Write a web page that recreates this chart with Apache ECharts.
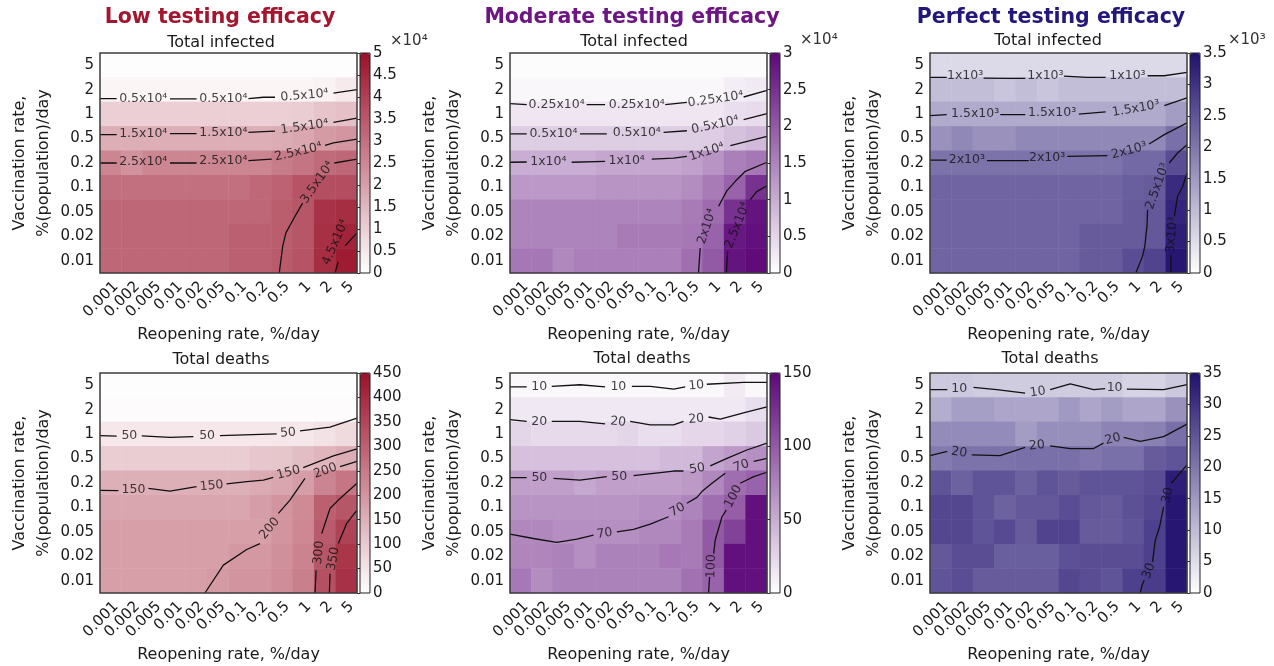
<!DOCTYPE html>
<html>
<head>
<meta charset="utf-8">
<script src="https://cdn.jsdelivr.net/npm/echarts@6/dist/echarts.min.js"></script>
<style>
html, body { margin: 0; padding: 0; background: #fff; }
#chart { width: 1274px; height: 666px; }
</style>
</head>
<body>
<div id="chart"></div>
<script>
// axes categories
var reopening = ['0.001', '0.002', '0.005', '0.01', '0.02', '0.05', '0.1', '0.2', '0.5', '1', '2', '5'];
var vaccination = ['0.01', '0.02', '0.05', '0.1', '0.2', '0.5', '1', '2', '5']; // bottom -> top

// cell values, rows listed from vaccination 5 (top) down to 0.01 (bottom)
// total infected, units of 10^4 / 10^4 / 10^3
var infectedLow = [
    [0.05, 0.05, 0.05, 0.05, 0.05, 0.05, 0.05, 0.05, 0.05, 0.05, 0.05, 0.05],
    [0.2, 0.2, 0.2, 0.2, 0.2, 0.2, 0.2, 0.2, 0.2, 0.22, 0.25, 0.45],
    [1.0, 1.0, 1.0, 1.0, 1.0, 1.0, 1.0, 1.0, 1.0, 1.05, 1.25, 1.3],
    [1.7, 1.7, 1.7, 1.7, 1.7, 1.7, 1.7, 1.7, 1.75, 1.85, 2.1, 2.2],
    [2.55, 2.3, 2.55, 2.55, 2.55, 2.55, 2.55, 2.55, 2.75, 2.9, 3.1, 3.2],
    [3.0, 3.0, 3.0, 3.0, 3.0, 3.0, 3.0, 3.15, 3.3, 3.6, 3.7, 3.75],
    [3.2, 3.2, 3.2, 3.2, 3.2, 3.2, 3.2, 3.2, 3.4, 3.55, 4.3, 4.4],
    [3.2, 3.2, 3.2, 3.2, 3.2, 3.2, 3.35, 3.35, 3.4, 3.55, 4.35, 4.6],
    [3.2, 3.2, 3.2, 3.2, 3.2, 3.2, 3.35, 3.35, 3.45, 3.6, 4.4, 4.8]
];
var infectedModerate = [
    [0.04, 0.04, 0.04, 0.04, 0.04, 0.04, 0.04, 0.04, 0.04, 0.04, 0.04, 0.04],
    [0.1, 0.1, 0.1, 0.1, 0.1, 0.1, 0.1, 0.1, 0.1, 0.1, 0.22, 0.25],
    [0.3, 0.3, 0.3, 0.3, 0.3, 0.3, 0.3, 0.3, 0.3, 0.3, 0.4, 0.42],
    [0.6, 0.6, 0.6, 0.6, 0.6, 0.6, 0.6, 0.6, 0.6, 0.62, 0.75, 0.85],
    [1.0, 1.0, 1.0, 1.0, 1.08, 1.08, 1.08, 1.08, 1.15, 1.3, 1.55, 1.65],
    [1.25, 1.25, 1.25, 1.25, 1.3, 1.3, 1.3, 1.3, 1.4, 1.6, 1.9, 2.5],
    [1.5, 1.5, 1.5, 1.5, 1.5, 1.5, 1.5, 1.5, 1.6, 1.8, 2.5, 2.85],
    [1.5, 1.5, 1.5, 1.5, 1.5, 1.6, 1.6, 1.6, 1.65, 1.9, 2.8, 2.9],
    [1.65, 1.65, 1.45, 1.55, 1.55, 1.55, 1.55, 1.55, 1.75, 2.0, 2.85, 2.95]
];
var infectedPerfect = [
    [0.55, 0.55, 0.55, 0.55, 0.55, 0.55, 0.55, 0.55, 0.55, 0.55, 0.55, 0.55],
    [0.95, 0.95, 0.95, 0.85, 0.95, 0.85, 0.95, 0.95, 0.95, 0.95, 0.95, 0.95],
    [1.25, 1.25, 1.25, 1.25, 1.25, 1.25, 1.25, 1.25, 1.25, 1.25, 1.25, 1.45],
    [1.6, 1.75, 1.6, 1.6, 1.75, 1.75, 1.75, 1.75, 1.75, 1.75, 1.75, 2.1],
    [2.05, 2.05, 2.05, 2.05, 2.05, 2.05, 2.05, 2.05, 2.05, 2.2, 2.2, 2.6],
    [2.25, 2.25, 2.25, 2.25, 2.25, 2.25, 2.25, 2.25, 2.25, 2.35, 2.4, 3.1],
    [2.25, 2.25, 2.25, 2.25, 2.25, 2.25, 2.25, 2.25, 2.25, 2.4, 2.45, 3.2],
    [2.25, 2.25, 2.25, 2.25, 2.25, 2.25, 2.25, 2.4, 2.4, 2.4, 2.45, 3.3],
    [2.25, 2.25, 2.25, 2.25, 2.25, 2.25, 2.25, 2.4, 2.4, 2.6, 2.75, 3.4]
];
// total deaths
var deathsLow = [
    [3, 3, 3, 3, 3, 3, 3, 3, 3, 3, 3, 3],
    [8, 8, 8, 8, 8, 8, 8, 8, 8, 8, 8, 8],
    [45, 45, 45, 45, 45, 45, 45, 45, 45, 45, 55, 70],
    [95, 95, 95, 95, 95, 95, 95, 105, 110, 125, 140, 155],
    [150, 150, 150, 150, 150, 150, 150, 160, 170, 185, 230, 260],
    [170, 170, 170, 170, 170, 170, 170, 185, 200, 220, 300, 320],
    [180, 180, 180, 180, 180, 180, 180, 180, 200, 225, 310, 355],
    [180, 180, 180, 180, 180, 180, 195, 195, 210, 235, 320, 380],
    [180, 180, 180, 180, 180, 190, 200, 200, 215, 240, 330, 390]
];
var deathsModerate = [
    [4, 4, 4, 4, 4, 4, 4, 4, 4, 4, 12, 4],
    [14, 14, 14, 14, 14, 14, 14, 14, 14, 14, 14, 20],
    [25, 22, 22, 22, 22, 25, 20, 20, 24, 24, 28, 33],
    [38, 38, 38, 38, 38, 38, 38, 42, 42, 55, 62, 68],
    [58, 58, 58, 53, 58, 58, 58, 58, 62, 72, 88, 95],
    [65, 65, 65, 65, 65, 65, 68, 68, 75, 88, 98, 145],
    [72, 72, 68, 68, 68, 68, 72, 72, 80, 100, 115, 145],
    [74, 74, 76, 68, 76, 76, 76, 82, 80, 100, 145, 145],
    [82, 70, 76, 76, 76, 76, 76, 76, 86, 95, 145, 145]
];
var deathsPerfect = [
    [8, 8, 7.5, 7.5, 7.5, 7.5, 7.5, 7.5, 7.5, 6.5, 6.5, 8],
    [12, 14, 14, 13, 13, 13, 15, 13, 14.5, 13, 13, 16],
    [17, 17, 17, 17, 14.5, 16.5, 16.5, 16.5, 18, 18, 18.5, 21],
    [19.5, 20.5, 20.5, 20.5, 21, 21, 21, 20, 21, 21, 24, 25],
    [25, 23, 25, 25, 23, 25, 24, 25, 25, 25, 26, 33],
    [27, 27, 25, 23, 24.5, 24.5, 26, 24.5, 24, 25.5, 27, 34],
    [27, 27, 25, 26.5, 24, 27.5, 27.5, 24, 24, 25, 28, 34],
    [24.5, 26, 26, 23.5, 23.5, 23.5, 25.5, 26, 26, 26, 28, 34],
    [25, 26, 24, 24, 24, 24, 27, 26, 25, 28, 28.5, 34]
];

// contour lines in cell-index coordinates (x: -0.5..11.5, y: -0.5..8.5)
// segs = pieces of the line between labels, labels = [x, y, angle]
var contoursInfectedLow = [
    {level: '0.5x10⁴', segs: [[[-0.5, 6.63], [0.28, 6.63]], [[2.77, 6.62], [4.01, 6.62]], [[6.43, 6.63], [7.13, 6.69], [7.67, 6.69]], [[10.4, 6.86], [11.5, 7.0]]],
        labels: [[1.52, 6.63, 0], [5.26, 6.63, 0], [9.05, 6.76, 5]]},
    {level: '1.5x10⁴', segs: [[[-0.5, 5.16], [0.28, 5.16]], [[2.77, 5.2], [4.01, 5.2]], [[6.43, 5.25], [7.13, 5.28], [7.67, 5.3]], [[10.4, 5.66], [11.5, 5.84]]],
        labels: [[1.52, 5.2, 0], [5.26, 5.23, 0], [9.05, 5.48, 8]]},
    {level: '2.5x10⁴', segs: [[[-0.5, 4.0], [0.28, 4.0]], [[2.77, 4.0], [4.01, 4.0]], [[6.43, 4.1], [7.52, 4.16]], [[10.01, 4.72], [10.4, 4.82], [11.5, 4.98]]],
        labels: [[1.52, 4.05, 0], [5.26, 4.08, 0], [8.76, 4.45, 13]]},
    {level: '3.5x10⁴', segs: [[[7.87, -0.5], [8.03, 0.59], [8.18, 1.14], [8.56, 1.75], [8.96, 2.36]], [[10.44, 4.0], [11.5, 4.16]]],
        labels: [[9.65, 3.2, 55]]},
    {level: '4.5x10⁴', segs: [[[10.47, -0.5], [10.62, -0.05]], [[10.95, 0.62], [11.5, 1.14]]],
        labels: [[10.5, 0.75, 66]]}
];
var contoursInfectedModerate = [
    {level: '0.25x10⁴', segs: [[[-0.5, 6.43], [0.28, 6.39]], [[3.08, 6.39], [3.94, 6.39]], [[6.75, 6.39], [7.76, 6.48]], [[10.41, 6.7], [11.5, 6.97]]],
        labels: [[1.68, 6.39, 0], [5.42, 6.39, 0], [9.1, 6.6, 8]]},
    {level: '0.5x10⁴', segs: [[[-0.5, 5.19], [0.28, 5.19]], [[2.77, 5.19], [4.02, 5.19]], [[6.67, 5.25], [7.76, 5.32]], [[10.41, 5.77], [11.5, 6.02]]],
        labels: [[1.53, 5.19, 0], [5.42, 5.22, 0], [9.08, 5.55, 12]]},
    {level: '1x10⁴', segs: [[[-0.5, 4.03], [0.28, 4.04]], [[2.38, 4.03], [3.94, 4.07]], [[6.12, 4.16], [7.14, 4.2], [7.76, 4.27]], [[9.79, 4.71], [11.5, 5.09]]],
        labels: [[1.29, 4.07, 0], [4.95, 4.1, 0], [8.69, 4.45, 17]]},
    {level: '2x10⁴', segs: [[[8.3, -0.5], [8.38, 0.52]], [[9.24, 2.23], [9.63, 2.87], [10.02, 3.25], [10.49, 3.66], [11.5, 4.03]]],
        labels: [[8.7, 1.4, 72]]},
    {level: '2.5x10⁴', segs: [[[9.6, -0.5], [9.66, 0.39]], [[10.72, 2.5], [11.03, 2.84], [11.5, 3.07]]],
        labels: [[10.12, 1.45, 68]]}
];
var contoursInfectedPerfect = [
    {level: '1x10³', segs: [[[-0.5, 7.5], [0.28, 7.5]], [[2.0, 7.47], [3.17, 7.46], [3.95, 7.46]], [[5.75, 7.55], [6.84, 7.5], [7.7, 7.5]], [[9.66, 7.57], [10.44, 7.57], [11.5, 7.71]]],
        labels: [[1.14, 7.55, 0], [4.89, 7.55, 0], [8.72, 7.55, 0]]},
    {level: '1.5x10³', segs: [[[-0.5, 5.94], [0.28, 5.98]], [[2.78, 5.98], [3.95, 5.98]], [[6.45, 6.0], [7.7, 6.09]], [[10.44, 6.35], [11.5, 6.66]]],
        labels: [[1.61, 6.02, 0], [5.2, 6.04, 0], [9.11, 6.22, 10]]},
    {level: '2x10³', segs: [[[-0.5, 4.12], [0.28, 4.12]], [[2.16, 4.1], [4.11, 4.1]], [[5.91, 4.27], [7.78, 4.3]], [[9.73, 4.78], [10.44, 5.16], [11.5, 5.64]]],
        labels: [[1.22, 4.12, 0], [4.97, 4.2, 0], [8.8, 4.5, 15]]},
    {level: '2.5x10³', segs: [[[9.11, -0.5], [9.42, 0.18], [9.53, 0.59], [9.63, 1.41], [9.66, 2.09]], [[10.67, 4.0], [11.06, 4.41], [11.5, 4.75]]],
        labels: [[10.13, 3.05, 70]]},
    {level: '3x10³', segs: [[[10.75, -0.5], [10.75, 0.25]], [[10.91, 1.82], [11.06, 2.64], [11.3, 3.05], [11.5, 3.59]]],
        labels: [[10.8, 1.05, 85]]}
];
var contoursDeathsLow = [
    {level: '50', segs: [[[-0.5, 5.94], [0.28, 5.92]], [[1.45, 5.93], [2.77, 5.87], [3.86, 5.9]], [[5.1, 5.94], [7.75, 6.01]], [[8.84, 6.13], [10.24, 6.29], [11.5, 6.65]]],
        labels: [[0.87, 5.93, 0], [4.5, 5.92, 0], [8.28, 6.05, 5]]},
    {level: '150', segs: [[[-0.5, 3.7], [0.36, 3.69]], [[1.76, 3.78], [2.77, 3.67], [4.01, 3.85]], [[5.41, 3.96], [6.35, 4.06], [7.13, 4.12], [7.59, 4.23]], [[8.99, 4.63], [10.4, 5.11], [11.5, 5.4]]],
        labels: [[1.06, 3.74, 0], [4.71, 3.88, 5], [8.3, 4.42, 15]]},
    {level: '200', segs: [[[4.4, -0.5], [5.26, 0.64], [6.35, 1.28], [6.97, 1.52]], [[7.83, 2.76], [8.37, 3.3], [9.07, 4.19]], [[10.71, 4.67], [11.5, 4.88]]],
        labels: [[7.42, 2.14, 50], [10.02, 4.5, 20]]},
    {level: '300', segs: [[[9.54, -0.5], [9.59, 0.43]], [[9.85, 1.93], [10.24, 2.96], [10.71, 3.37], [11.5, 3.99]]],
        labels: [[9.72, 1.15, 85]]},
    {level: '350', segs: [[[10.21, -0.5], [10.24, 0.29]], [[10.63, 1.52], [11.02, 2.35], [11.5, 2.89]]],
        labels: [[10.4, 0.9, 80]]}
];
var contoursDeathsModerate = [
    {level: '10', segs: [[[-0.5, 7.93], [0.28, 7.93]], [[1.45, 7.95], [2.77, 8.02], [3.94, 7.93]], [[5.19, 7.95], [6.05, 7.95], [7.14, 7.84], [7.68, 7.93]], [[8.69, 8.04], [10.41, 8.12], [11.5, 8.12]]],
        labels: [[0.86, 7.93, 0], [4.56, 7.93, 0], [8.2, 7.99, 5]]},
    {level: '20', segs: [[[-0.5, 6.59], [0.28, 6.52]], [[1.45, 6.52], [2.77, 6.52], [3.94, 6.42]], [[5.11, 6.52], [6.05, 6.38], [7.14, 6.38], [7.6, 6.52]], [[8.77, 6.7], [9.32, 6.61], [10.49, 6.89], [11.5, 7.11]]],
        labels: [[0.86, 6.52, 0], [4.55, 6.5, -5], [8.2, 6.62, 5]]},
    {level: '50', segs: [[[-0.5, 4.22], [0.28, 4.22]], [[1.53, 4.19], [2.77, 4.12], [4.02, 4.26]], [[5.27, 4.3], [7.14, 4.49], [7.6, 4.49]], [[8.85, 4.7], [9.63, 5.01], [10.56, 5.35], [11.5, 5.63]]],
        labels: [[0.87, 4.22, 0], [4.6, 4.26, 0], [8.24, 4.58, 10]]},
    {level: '70', segs: [[[-0.5, 1.91], [0.59, 1.73], [1.68, 1.57], [2.62, 1.7], [3.4, 1.87]], [[4.49, 2.0], [5.27, 2.1], [6.05, 2.32], [6.9, 2.62]], [[7.76, 3.17], [8.23, 3.41], [8.46, 3.65], [8.93, 3.99], [9.55, 4.4]], [[10.88, 4.88], [11.5, 5.01]]],
        labels: [[3.92, 1.93, 8], [7.32, 2.9, 30], [10.3, 4.7, 20]]},
    {level: '100', segs: [[[8.77, -0.5], [8.82, 0.16]], [[9.01, 1.11], [9.08, 1.66], [9.4, 2.62], [9.6, 2.89]], [[10.25, 3.99], [10.88, 4.26], [11.5, 4.44]]],
        labels: [[8.9, 0.6, 88], [9.93, 3.45, 62]]}
];
var contoursDeathsPerfect = [
    {level: '10', segs: [[[-0.5, 7.82], [0.31, 7.82]], [[1.53, 7.91], [2.62, 7.82], [3.94, 7.68]], [[5.11, 7.82], [6.05, 8.06], [7.14, 7.82], [7.68, 7.86]], [[8.69, 7.84], [10.41, 7.82], [11.5, 8.02]]],
        labels: [[0.86, 7.84, 0], [4.53, 7.72, 8], [8.12, 7.89, 0]]},
    {level: '20', segs: [[[-0.5, 5.12], [0.31, 5.29]], [[1.45, 5.15], [2.77, 5.12], [3.94, 5.46]], [[5.11, 5.52], [6.05, 5.41], [7.14, 5.41], [7.6, 5.63]], [[8.54, 5.87], [9.32, 5.7], [10.41, 5.9], [11.5, 6.41]]],
        labels: [[0.86, 5.25, -8], [4.49, 5.53, 5], [8.04, 5.8, 15]]},
    {level: '30', segs: [[[9.32, -0.5], [9.4, -0.19], [9.5, 0.02]], [[9.89, 0.77], [10.02, 1.66], [10.22, 2.21], [10.41, 3.03]], [[10.77, 3.99], [11.03, 4.26], [11.5, 4.74]]],
        labels: [[9.72, 0.4, 70], [10.6, 3.5, 78]]}
];

var RED = ['#ffffff', '#9a1129'];
var PURPLE = ['#ffffff', '#5c0878'];
var NAVY = ['#ffffff', '#21106f'];
var FONT = 'DejaVu Sans';
var TXT = '#1a1a1a';

var panels = [
    {left: 100, top: 53, rows: infectedLow, contours: contoursInfectedLow, max: 5, step: 0.5, colors: RED, title: 'Total infected', tx: 221, ty: 43, mult: '×10⁴', mx: 390, my: 41},
    {left: 510, top: 53, rows: infectedModerate, contours: contoursInfectedModerate, max: 3, step: 0.5, colors: PURPLE, title: 'Total infected', tx: 634, ty: 42, mult: '×10⁴', mx: 800, my: 40},
    {left: 930, top: 53, rows: infectedPerfect, contours: contoursInfectedPerfect, max: 3.5, step: 0.5, colors: NAVY, title: 'Total infected', tx: 1048, ty: 41, mult: '×10³', mx: 1228, my: 40},
    {left: 100, top: 373, rows: deathsLow, contours: contoursDeathsLow, max: 450, step: 50, colors: RED, title: 'Total deaths', tx: 221, ty: 360},
    {left: 510, top: 373, rows: deathsModerate, contours: contoursDeathsModerate, max: 150, step: 50, colors: PURPLE, title: 'Total deaths', tx: 642, ty: 359},
    {left: 930, top: 373, rows: deathsPerfect, contours: contoursDeathsPerfect, max: 35, step: 5, colors: NAVY, title: 'Total deaths', tx: 1050, ty: 359}
];
var headers = [
    {text: 'Low testing efficacy', x: 220, color: '#a3162f'},
    {text: 'Moderate testing efficacy', x: 632, color: '#6d1683'},
    {text: 'Perfect testing efficacy', x: 1051, color: '#24177b'}
];

var W = 257, H = 220;

function cells(rows) {
    var d = [];
    rows.forEach(function (row, r) {
        row.forEach(function (v, c) { d.push([c, rows.length - 1 - r, v]); });
    });
    return d;
}

var grid = [], xAxis = [], yAxis = [], series = [], visualMap = [], graphic = [];

panels.forEach(function (p, i) {
    var g = grid.length;
    grid.push({left: p.left, top: p.top, width: W, height: H, show: true, borderColor: '#3c3c3c', borderWidth: 1.5, z: 10});
    grid.push({left: p.left + 260, top: p.top, width: 10, height: H, show: true, borderColor: '#222', borderWidth: 1, z: 10});
    var a = xAxis.length;
    // heatmap axes
    xAxis.push({type: 'category', gridIndex: g, data: reopening, axisLine: {show: false}, axisTick: {show: false},
        axisLabel: {interval: 0, rotate: 45, fontSize: 15, color: TXT, margin: 6, verticalAlign: 'top', fontFamily: FONT},
        name: 'Reopening rate, %/day', nameLocation: 'middle', nameGap: 54,
        nameTextStyle: {fontSize: 16, color: TXT, fontFamily: FONT}});
    yAxis.push({type: 'category', gridIndex: g, data: vaccination, axisLine: {show: false}, axisTick: {show: false},
        axisLabel: {interval: 0, fontSize: 15, color: TXT, margin: 6, fontFamily: FONT},
        name: 'Vaccination rate,\n%(population)/day', nameLocation: 'middle', nameGap: 44, nameRotate: 90,
        nameTextStyle: {fontSize: 16, color: TXT, lineHeight: 24, fontFamily: FONT}});
    // contour axes (same grid, cell-index coordinates)
    xAxis.push({type: 'value', gridIndex: g, min: -0.5, max: 11.5, show: false});
    yAxis.push({type: 'value', gridIndex: g, min: -0.5, max: 8.5, show: false});
    // colorbar axis
    xAxis.push({type: 'value', gridIndex: g + 1, show: false, min: 0, max: 1});
    yAxis.push({type: 'value', gridIndex: g + 1, position: 'right', min: 0, max: p.max, interval: p.step,
        axisLine: {show: false}, splitLine: {show: false},
        axisTick: {show: true, inside: true, length: 3, lineStyle: {color: '#333'}},
        axisLabel: {fontSize: 15, color: TXT, margin: 3, fontFamily: FONT}});

    visualMap.push({type: 'continuous', seriesIndex: series.length, min: 0, max: p.max, calculable: false,
        itemWidth: 10, itemHeight: H, left: p.left + 260, top: p.top, padding: 0, text: null, hoverLink: false,
        inRange: {color: p.colors}});
    series.push({type: 'heatmap', xAxisIndex: a, yAxisIndex: a, data: cells(p.rows), silent: true, z: 2});

    var labelData = [];
    p.contours.forEach(function (c) {
        var pts = [];
        c.segs.forEach(function (s, k) {
            if (k) pts.push(['-', '-']);
            pts = pts.concat(s);
        });
        series.push({type: 'line', xAxisIndex: a + 1, yAxisIndex: a + 1, data: pts, symbol: 'none', silent: true,
            connectNulls: false, z: 6, lineStyle: {color: '#111', width: 1.3}});
        c.labels.forEach(function (l) {
            labelData.push({value: [l[0], l[1]], name: c.level, label: {rotate: l[2]}});
        });
    });
    series.push({type: 'scatter', xAxisIndex: a + 1, yAxisIndex: a + 1, data: labelData, symbolSize: 1, silent: true, z: 7,
        itemStyle: {color: 'rgba(0,0,0,0)'},
        label: {show: true, position: 'inside', formatter: '{b}', fontSize: 12.5, color: '#111', fontFamily: FONT}});

    graphic.push({type: 'text', x: p.tx, y: p.ty, style: {text: p.title, fontSize: 16, fontFamily: FONT, fill: TXT, align: 'center', verticalAlign: 'middle'}});
    if (p.mult) {
        graphic.push({type: 'text', x: p.mx, y: p.my, style: {text: p.mult, fontSize: 15, fontFamily: FONT, fill: '#333', align: 'left', verticalAlign: 'middle'}});
    }
});

headers.forEach(function (h) {
    graphic.push({type: 'text', x: h.x, y: 18, style: {text: h.text, fontSize: 20.5, fontWeight: 'bold', fontFamily: FONT, fill: h.color, align: 'center', verticalAlign: 'middle'}});
});

var chart = echarts.init(document.getElementById('chart'));
chart.setOption({
    animation: false,
    backgroundColor: '#ffffff',
    textStyle: {fontFamily: FONT},
    grid: grid,
    xAxis: xAxis,
    yAxis: yAxis,
    visualMap: visualMap,
    series: series,
    graphic: graphic
});
</script>
</body>
</html>
